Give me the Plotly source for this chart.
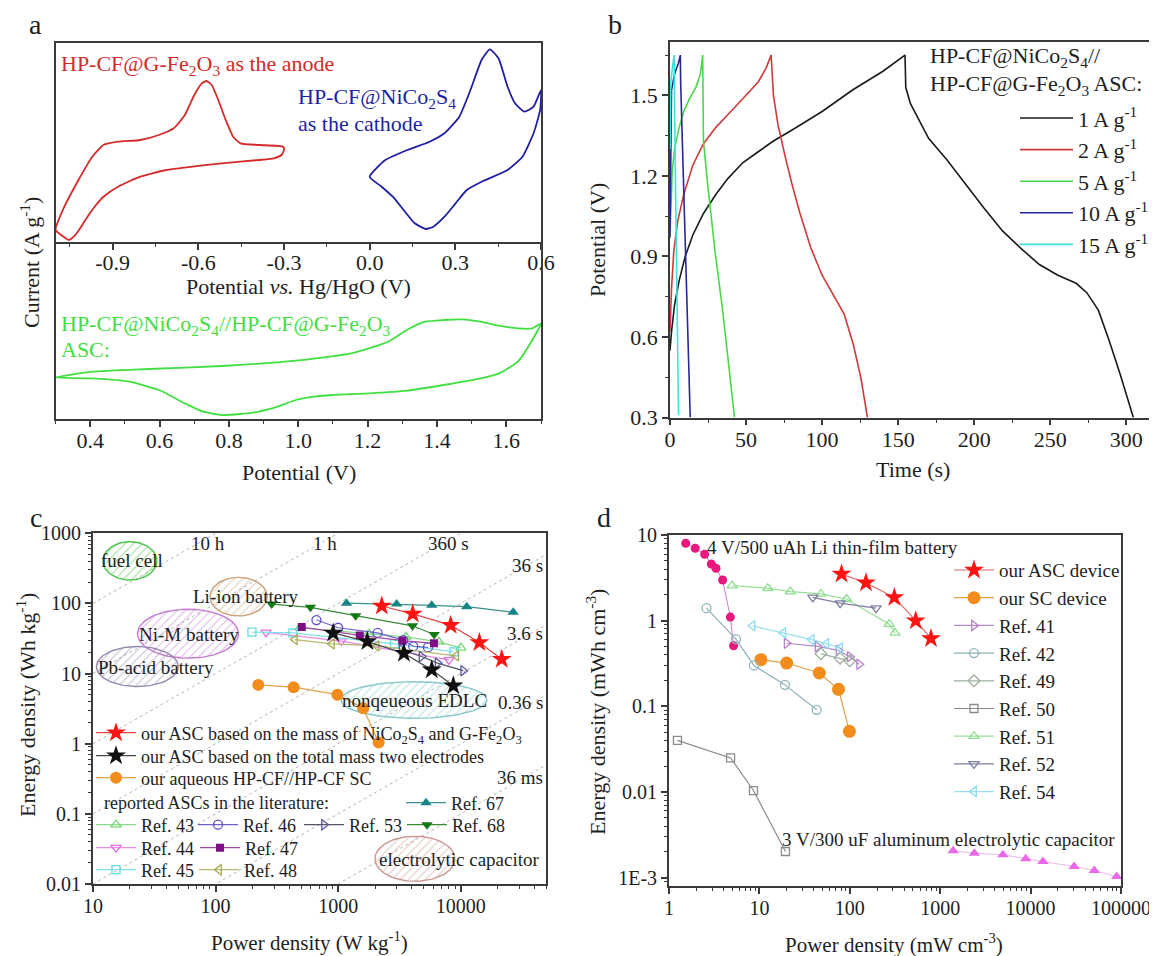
import numpy as np
import plotly.graph_objects as go

# The page body has an 8 px margin; the figure is placed so that its
# drawing lines up with the 1157x956 window.
OFF = 8
W, H = 1149, 948
FONT = "Liberation Serif, Times New Roman, Times, serif"
AX = "#3a3a3a"
TXT = "#1e1e1e"


def X(px):
    return (px - OFF) / W


def Y(py):
    return 1 - (py - OFF) / H


# ---------------- panel a : cyclic voltammograms ----------------
anode_V = [-1.10, -1.069, -1.023, -0.971, -0.932, -0.881, -0.803, -0.738, -0.686, -0.647, -0.614,
           -0.588, -0.571, -0.553, -0.530, -0.504, -0.478, -0.452, -0.387, -0.303, -0.300,
           -0.309, -0.335, -0.387, -0.517, -0.621, -0.712, -0.803, -0.881, -0.932, -0.958,
           -0.984, -1.010, -1.036, -1.053, -1.069, -1.088, -1.10]
anode_I = [-7.0, -4.67, -2.17, 0.33, 1.5, 1.83, 2.0, 2.5, 3.17, 4.5, 6.5,
           7.67, 7.9, 7.5, 6.0, 4.0, 2.33, 1.67, 1.5, 1.33, 1.0,
           0.5, 0.17, 0.0, -0.33, -0.67, -1.0, -1.67, -2.67, -3.67, -4.5,
           -5.5, -6.67, -7.67, -8.0, -7.73, -7.33, -7.0]

cathode_V = [0.0, 0.055, 0.132, 0.210, 0.262, 0.314, 0.353, 0.392, 0.421, 0.451, 0.483, 0.509,
             0.542, 0.574, 0.600, 0.597, 0.574, 0.535, 0.483, 0.392, 0.340, 0.301, 0.262,
             0.223, 0.197, 0.158, 0.119, 0.081, 0.042, 0.0]
cathode_I = [-1.67, 0.0, 1.0, 1.83, 2.67, 4.33, 7.0, 10.0, 11.07, 10.17, 7.33, 5.67,
             4.83, 5.33, 7.0, 5.0, 2.67, 0.33, -1.0, -2.17, -3.0, -4.33, -5.67,
             -6.67, -6.9, -6.33, -5.0, -3.67, -2.67, -1.67]

asc_cv_V = [0.300, 0.407, 0.567, 0.780, 0.993, 1.153, 1.259, 1.313, 1.366, 1.419, 1.473, 1.526,
            1.579, 1.633, 1.675, 1.700,
            1.675, 1.633, 1.579, 1.526, 1.419, 1.313, 1.206, 1.100, 1.046, 0.993, 0.940,
            0.886, 0.833, 0.780, 0.726, 0.673, 0.599, 0.513, 0.407, 0.300]
asc_cv_I = [-0.07, 0.5, 0.77, 1.07, 1.6, 2.33, 3.5, 4.67, 5.5, 5.67, 5.73, 5.5,
            5.1, 4.83, 4.83, 5.33,
            3.67, 1.5, 0.33, -0.17, -0.83, -1.4, -1.67, -1.83, -2.0, -2.33, -3.0,
            -3.5, -3.73, -3.83, -3.5, -2.67, -1.33, -0.5, -0.17, -0.07]

# ---------------- panel b : GCD curves ----------------
gcd_labels = ["1 A g<sup>-1</sup>", "2 A g<sup>-1</sup>", "5 A g<sup>-1</sup>",
              "10 A g<sup>-1</sup>", "15 A g<sup>-1</sup>"]
t_1A = [0, 1, 3, 6, 10, 15, 22, 30, 38, 48, 58, 68, 80, 100, 120, 140, 154.5,
        155, 158, 170, 182, 194, 206.5, 218.6, 230.7, 242.8, 255, 267, 274, 281.6, 288.8, 296, 304.6]
V_1A = [0.55, 0.62, 0.72, 0.81, 0.90, 0.98, 1.06, 1.13, 1.19, 1.25, 1.29, 1.33, 1.37, 1.44, 1.52, 1.59, 1.65,
        1.53, 1.47, 1.34, 1.26, 1.17, 1.08, 0.995, 0.93, 0.87, 0.83, 0.80, 0.765, 0.70, 0.585, 0.46, 0.30]
t_2A = [0, 1, 2.5, 5, 9, 15, 22, 30, 40, 50, 58, 63, 66.5,
        68, 71, 75.8, 80.6, 85.5, 92.7, 100, 107, 114.5, 120.6, 125.4, 129.8]
V_2A = [0.62, 0.78, 0.92, 1.03, 1.13, 1.24, 1.32, 1.38, 1.44, 1.50, 1.55, 1.60, 1.65,
        1.50, 1.39, 1.27, 1.16, 1.06, 0.93, 0.83, 0.76, 0.685, 0.57, 0.45, 0.30]
t_5A = [0, 0.7, 1.5, 3, 6, 9, 13, 17, 20, 21.5, 22, 24.9, 29.8, 34.6, 42.4]
V_5A = [0.98, 1.12, 1.22, 1.30, 1.38, 1.44, 1.49, 1.53, 1.58, 1.65, 1.33, 1.16, 0.91, 0.70, 0.30]
t_10A = [0, 0.5, 1, 3, 5.5, 6.8, 7.0, 13.3]
V_10A = [0.97, 1.30, 1.52, 1.58, 1.62, 1.65, 1.55, 0.30]
t_15A = [0, 0.5, 1.5, 2.7, 3.0, 5.6]
V_15A = [1.30, 1.55, 1.60, 1.65, 1.45, 0.31]

# ---------------- panel c : Ragone (gravimetric) ----------------
P_asc_mass = [2270, 4060, 8280, 14200, 21600]
E_asc_mass = [92, 71, 49, 27.7, 16]
P_asc_total = [910, 1730, 3440, 5800, 8700]
E_asc_total = [38, 28.6, 19.5, 11.3, 6.7]
P_sc_aq = [223, 433, 986, 1600, 2140]
E_sc_aq = [6.9, 6.4, 5.0, 3.2, 1.04]
P_ref43 = [488, 1780, 3570, 6640, 10050]
E_ref43 = [44.8, 36.8, 33.4, 28.3, 23.2]
P_ref44 = [258, 1060, 8020]
E_ref44 = [38.7, 29.1, 15.7]
P_ref45 = [198, 428, 2880, 8800]
E_ref45 = [39, 38, 26.5, 20.4]
P_ref46 = [665, 1000, 2100, 3400, 4100, 5400]
E_ref46 = [58, 45, 38, 30, 24.5, 23.6]
P_ref47 = [505, 1500, 3340, 6050]
E_ref47 = [46, 35, 29.5, 27]
P_ref48 = [444, 890, 2060, 9200]
E_ref48 = [30.5, 26.5, 24.8, 17.9]
P_ref53 = [3300, 4790, 6470, 10470]
E_ref53 = [21.8, 17.5, 14.1, 11.0]
P_ref67 = [1170, 3000, 5800, 11200, 26800]
E_ref67 = [101, 98, 94, 90, 75]
P_ref68 = [287, 594, 1390, 4040, 6070]
E_ref68 = [98, 88, 67, 48, 36]

iso_time_h = [10, 1, 0.1, 0.01, 1e-3, 1e-4, 1e-5]
iso_labels = ["10 h", "1 h", "360 s", "36 s", "3.6 s", "0.36 s", "36 ms"]

region_names = ["fuel cell", "Li-ion battery", "Ni-M battery", "Pb-acid battery",
                "nonqeueous EDLC", "electrolytic capacitor"]
region_P = [20, 154, 59.6, 23, 4150, 4230]
region_E = [405, 125, 37, 12.6, 4.2, 0.0229]
region_wdec = [0.22, 0.233, 0.412, 0.334, 0.595, 0.326]
region_hdec = [0.273, 0.275, 0.349, 0.285, 0.261, 0.321]
region_colors = ["#4cc24c", "#c9a27a", "#c47ad2", "#9488b0", "#86c8cc", "#c89890"]

# ---------------- panel d : Ragone (volumetric) ----------------
P_asc_vol = [81, 151, 311, 536, 790]
E_asc_vol = [3.5, 2.77, 1.87, 1.0, 0.62]
P_sc_vol = [10.4, 20, 46, 75, 99]
E_sc_vol = [0.35, 0.32, 0.245, 0.158, 0.051]
P_li_film = [1.53, 1.95, 2.48, 2.94, 3.31, 3.92, 4.77, 5.18]
E_li_film = [8.0, 7.0, 5.96, 4.59, 4.09, 2.98, 1.10, 0.51]
P_al_cap = [1390, 2390, 4940, 8830, 13700, 30300, 50700, 89600]
E_al_cap = [0.00206, 0.00193, 0.00185, 0.00166, 0.00154, 0.00135, 0.00121, 0.00103]
P_ref41 = [20, 44, 75, 100, 127]
E_ref41 = [0.545, 0.50, 0.45, 0.38, 0.31]
P_ref42 = [2.6, 5.5, 8.7, 19.2, 43]
E_ref42 = [1.40, 0.61, 0.30, 0.178, 0.091]
P_ref49 = [48, 78, 100]
E_ref49 = [0.41, 0.365, 0.34]
P_ref50 = [1.24, 4.8, 8.6, 19.4]
E_ref50 = [0.040, 0.025, 0.0104, 0.00202]
P_ref51 = [5.0, 12.4, 22, 48, 92, 273, 316]
E_ref51 = [2.56, 2.39, 2.18, 2.05, 1.79, 0.91, 0.72]
P_ref52 = [39, 78, 195]
E_ref52 = [1.87, 1.60, 1.40]
P_ref54 = [8.4, 18.4, 38, 55, 78]
E_ref54 = [0.87, 0.72, 0.60, 0.54, 0.48]

fig = go.Figure()
layout_legends = {}


def legend_box(key, left_px, center_py, size, iw=40, rows=1):
    rowh = 1.3 * size + 3
    if rows > 1:
        ytop = center_py - rowh / 2 - 5
        yy, ya = Y(ytop), "top"
    else:
        yy, ya = Y(center_py), "middle"
    layout_legends[key] = dict(
        x=X(left_px - 5), xanchor="left", y=yy, yanchor=ya,
        font=dict(family=FONT, size=size, color=TXT), bgcolor="rgba(0,0,0,0)",
        borderwidth=0, itemwidth=iw, tracegroupgap=0, orientation="v",
        itemclick=False, itemdoubleclick=False)


# ---- panel a traces ----
fig.add_trace(go.Scatter(x=anode_V, y=anode_I, mode="lines", xaxis="x", yaxis="y",
                         line=dict(color="#d42a2a", width=1.8, shape="spline", smoothing=0.5),
                         showlegend=False))
fig.add_trace(go.Scatter(x=cathode_V, y=cathode_I, mode="lines", xaxis="x", yaxis="y",
                         line=dict(color="#1f1fa6", width=1.8, shape="spline", smoothing=0.5),
                         showlegend=False))
fig.add_trace(go.Scatter(x=asc_cv_V, y=asc_cv_I, mode="lines", xaxis="x2", yaxis="y2",
                         line=dict(color="#40e040", width=1.8, shape="spline", smoothing=0.5),
                         showlegend=False))

# ---- panel b traces ----
gcd_t = [t_1A, t_2A, t_5A, t_10A, t_15A]
gcd_V = [V_1A, V_2A, V_5A, V_10A, V_15A]
gcd_colors = ["#1a1a1a", "#d03a3a", "#48d848", "#27279a", "#3ee0e0"]
legend_box("legend", 1020, 118, 22, iw=53, rows=5)
for t, v, c, lab in zip(gcd_t, gcd_V, gcd_colors, gcd_labels):
    fig.add_trace(go.Scatter(x=t, y=v, mode="lines", xaxis="x3", yaxis="y3", name=lab,
                             line=dict(color=c, width=1.6), legend="legend"))

# ---- panel c : iso-time guide lines ----
P_guide = [10, 50000]
for th in iso_time_h:
    fig.add_trace(go.Scatter(x=P_guide, y=[p * th for p in P_guide], mode="lines",
                             xaxis="x4", yaxis="y4", showlegend=False,
                             line=dict(color="#b4b4b4", width=1, dash="dot")))

# ---- panel c : hatched regions ----
theta = np.linspace(0, 2 * np.pi, 90)
for name, pc, ec, wd, hd, col in zip(region_names, region_P, region_E, region_wdec,
                                     region_hdec, region_colors):
    lx = np.log10(pc) + wd * np.cos(theta)
    ly = np.log10(ec) + hd * np.sin(theta)
    fig.add_trace(go.Scatter(x=10 ** lx, y=10 ** ly, mode="lines", fill="toself",
                             xaxis="x4", yaxis="y4", showlegend=False,
                             fillcolor="rgba(255,255,255,0)",
                             fillpattern=dict(shape="/", fgcolor=col, fgopacity=0.55,
                                              bgcolor="rgba(255,255,255,0)", size=6,
                                              solidity=0.18),
                             line=dict(color=col, width=1.4)))

# ---- panel c : data series ----
c_series = [
    (P_ref43, E_ref43, "Ref. 43", "triangle-up-open", "#74d874", "#8ad88a", 9, "legend10", 96, 825),
    (P_ref44, E_ref44, "Ref. 44", "triangle-down-open", "#e070e0", "#e58ae5", 9, "legend11", 96, 848),
    (P_ref45, E_ref45, "Ref. 45", "square-open", "#62dce6", "#80e2ea", 8, "legend12", 96, 870),
    (P_ref46, E_ref46, "Ref. 46", "circle-open", "#5a4fc8", "#6c62d0", 9, "legend13", 198, 825),
    (P_ref47, E_ref47, "Ref. 47", "square", "#7d0f84", "#a04ca6", 8, "legend14", 200, 848),
    (P_ref48, E_ref48, "Ref. 48", "triangle-left-open", "#a8a84e", "#b8b870", 9, "legend15", 199, 870),
    (P_ref53, E_ref53, "Ref. 53", "triangle-right-open", "#5a5aa0", "#555566", 9, "legend16", 304, 825),
    (P_ref68, E_ref68, "Ref. 68", "triangle-down", "#137a13", "#3a8a3a", 10, "legend17", 407, 825),
    (P_ref67, E_ref67, "Ref. 67", "triangle-up", "#178585", "#3a9090", 10, "legend18", 406, 803),
    (P_sc_aq, E_sc_aq, "our aqueous HP-CF//HP-CF SC", "circle", "#f28c1c", "#e2a24a", 12, "legend9", 96, 778),
    (P_asc_total, E_asc_total, "our ASC based on the total mass two electrodes", "star", "#101010",
     "#4a4a4a", 15, "legend8", 96, 756),
    (P_asc_mass, E_asc_mass, "our ASC based on the mass of NiCo<sub>2</sub>S<sub>4</sub> and G-Fe<sub>2</sub>O<sub>3</sub>",
     "star", "#ff1414", "#e04848", 15, "legend7", 96, 733),
]
for xs, ys, name, sym, mc, lc, sz, lk, left, row in c_series:
    legend_box(lk, left, row, 18, iw=40)
    open_sym = sym.endswith("open")
    fig.add_trace(go.Scatter(
        x=xs, y=ys, mode="lines+markers", xaxis="x4", yaxis="y4", name=name, legend=lk,
        line=dict(color=lc, width=1.2),
        marker=dict(symbol=sym, size=sz, color=mc,
                    line=dict(color=mc, width=1.3 if open_sym else 0))))

# ---- panel d traces ----
fig.add_trace(go.Scatter(x=P_li_film, y=E_li_film, mode="lines+markers", xaxis="x5", yaxis="y5",
                         showlegend=False, line=dict(color="#c97cc9", width=1),
                         marker=dict(symbol="circle", size=9, color="#e8187e")))
fig.add_trace(go.Scatter(x=P_al_cap, y=E_al_cap, mode="lines+markers", xaxis="x5", yaxis="y5",
                         showlegend=False, line=dict(color="#ebb4eb", width=1),
                         marker=dict(symbol="triangle-up", size=10, color="#e868e8")))
d_series = [
    (P_asc_vol, E_asc_vol, "our ASC device", "star", "#ff1414", "#d86a6a", 15),
    (P_sc_vol, E_sc_vol, "our SC device", "circle", "#f28c1c", "#e2a24a", 13),
    (P_ref41, E_ref41, "Ref. 41", "triangle-right-open", "#b482c8", "#b48ac4", 9),
    (P_ref42, E_ref42, "Ref. 42", "circle-open", "#8fb4bc", "#8fb0b8", 9),
    (P_ref49, E_ref49, "Ref. 49", "diamond-open", "#9cb09c", "#9cb09c", 9),
    (P_ref50, E_ref50, "Ref. 50", "square-open", "#8a8a8a", "#8a8a8a", 8),
    (P_ref51, E_ref51, "Ref. 51", "triangle-up-open", "#8ede8e", "#98de98", 9),
    (P_ref52, E_ref52, "Ref. 52", "triangle-down-open", "#7e7ea0", "#7e7ea0", 9),
    (P_ref54, E_ref54, "Ref. 54", "triangle-left-open", "#8adcf0", "#9ae0f0", 9),
]
legend_box("legend2", 954, 570, 19, iw=40, rows=9)
for xs, ys, name, sym, mc, lc, sz in d_series:
    open_sym = sym.endswith("open")
    fig.add_trace(go.Scatter(
        x=xs, y=ys, mode="lines+markers", xaxis="x5", yaxis="y5", name=name, legend="legend2",
        line=dict(color=lc, width=1.2),
        marker=dict(symbol=sym, size=sz, color=mc,
                    line=dict(color=mc, width=1.3 if open_sym else 0))))

# ---------------- axes ----------------
base = dict(showgrid=False, zeroline=False, showline=True, linecolor=AX, linewidth=1.8,
            tickcolor=AX, tickwidth=1.5, mirror=True,
            tickfont=dict(family=FONT, size=22, color=TXT))


def minor(vals, ln=3.5):
    return dict(tickmode="array", tickvals=vals, ticks="outside", ticklen=ln,
                tickcolor=AX, tickwidth=1.3)


def log_minors(lo, hi):
    return [m * 10.0 ** e for e in range(lo, hi) for m in range(2, 10)]


SMALL = dict(family=FONT, size=20, color=TXT)
layout_axes = dict(
    xaxis=dict(base, domain=[X(55.5), X(541)], range=[-1.1, 0.6], anchor="y", ticks="outside",
               ticklen=6, ticklabelstandoff=-6, tickvals=[-0.9, -0.6, -0.3, 0.0, 0.3, 0.6],
               ticktext=["-0.9", "-0.6", "-0.3", "0.0", "0.3", "0.6"],
               minor=minor([-1.05, -0.75, -0.45, -0.15, 0.15, 0.45])),
    yaxis=dict(base, domain=[Y(241.7), Y(43.3)], range=[-8.17, 11.67], anchor="x",
               showticklabels=False, ticks=""),
    xaxis2=dict(base, mirror=False, domain=[X(55.5), X(541)], range=[0.3, 1.7], anchor="y2",
                ticks="outside", ticklen=6, ticklabelstandoff=-5,
                tickvals=[0.4, 0.6, 0.8, 1.0, 1.2, 1.4, 1.6],
                ticktext=["0.4", "0.6", "0.8", "1.0", "1.2", "1.4", "1.6"],
                minor=minor([0.3, 0.5, 0.7, 0.9, 1.1, 1.3, 1.5, 1.7])),
    yaxis2=dict(base, domain=[Y(419), Y(241.7)], range=[-4.23, 13.5], anchor="x2",
                showticklabels=False, ticks=""),
    xaxis3=dict(base, domain=[X(670), X(1156)], range=[0, 319.5], anchor="y3", ticks="outside",
                ticklen=6, ticklabelstandoff=-5, tickvals=[0, 50, 100, 150, 200, 250, 300],
                minor=minor([25, 75, 125, 175, 225, 275])),
    yaxis3=dict(base, domain=[Y(417.5), Y(41.7)], range=[0.3, 1.7], anchor="x3", ticks="outside",
                ticklen=6, tickvals=[0.3, 0.6, 0.9, 1.2, 1.5],
                ticktext=["0.3", "0.6", "0.9", "1.2", "1.5"],
                minor=minor([0.45, 0.75, 1.05, 1.35, 1.65])),
    xaxis4=dict(base, type="log", domain=[X(93), X(546.4)], range=[1, np.log10(50000)],
                anchor="y4", ticks="outside", ticklen=6, ticklabelstandoff=-3,
                tickvals=[10, 100, 1000, 10000],
                ticktext=["10", "100", "1000", "10000"], tickfont=SMALL,
                minor=minor(log_minors(1, 5))),
    yaxis4=dict(base, type="log", domain=[Y(884), Y(533.3)], range=[-2, 3], anchor="x4",
                ticks="outside", ticklen=6, tickvals=[0.01, 0.1, 1, 10, 100, 1000],
                ticktext=["0.01", "0.1", "1", "10", "100", "1000"],
                tickfont=SMALL, minor=minor(log_minors(-2, 3))),
    xaxis5=dict(base, type="log", domain=[X(669), X(1121)], range=[0, 5], anchor="y5",
                ticks="outside", ticklen=6, ticklabelstandoff=-3,
                tickvals=[1, 10, 100, 1000, 10000, 100000],
                ticktext=["1", "10", "100", "1000", "10000", "100000"],
                tickfont=SMALL, minor=minor(log_minors(0, 5))),
    yaxis5=dict(base, type="log", domain=[Y(885.7), Y(535)], range=[-3.094, 1], anchor="x5",
                ticks="outside", ticklen=6, tickvals=[0.001, 0.01, 0.1, 1, 10],
                ticktext=["1E-3", "0.01", "0.1", "1", "10"],
                tickfont=SMALL, minor=minor(log_minors(-4, 1))),
)

# ---------------- annotations ----------------
ann = []


def text(px, py, s, size=22, color=TXT, xa="center", ya="middle", angle=0):
    ann.append(dict(x=X(px), y=Y(py), xref="paper", yref="paper", text=s, showarrow=False,
                    xanchor=xa, yanchor=ya, textangle=angle,
                    font=dict(family=FONT, size=size, color=color)))


# panel letters
text(35, 25, "a", 28)
text(615, 25, "b", 28)
text(36, 517, "c", 28)
text(604, 517, "d", 28)

# panel a
text(59, 65, "HP-CF@G-Fe<sub>2</sub>O<sub>3</sub> as the anode", 22, "#d42a2a", xa="left")
text(296, 98, "HP-CF@NiCo<sub>2</sub>S<sub>4</sub>", 22, "#1f1fa6", xa="left")
text(296, 123, "as the cathode", 22, "#1f1fa6", xa="left")
text(59, 325, "HP-CF@NiCo<sub>2</sub>S<sub>4</sub>//HP-CF@G-Fe<sub>2</sub>O<sub>3</sub>", 22, "#40e040", xa="left")
text(59, 350, "ASC:", 22, "#40e040", xa="left")
text(298, 286, "Potential <i>vs.</i> Hg/HgO (V)", 22)
text(299, 472, "Potential (V)", 22)
text(30, 263, "Current (A g<sup>-1</sup>)", 22, angle=-90)

# panel b
text(597, 240, "Potential (V)", 22, angle=-90)
text(913, 470, "Time (s)", 22)
text(928, 57, "HP-CF@NiCo<sub>2</sub>S<sub>4</sub>//", 22, xa="left")
text(928, 85, "HP-CF@G-Fe<sub>2</sub>O<sub>3</sub> ASC:", 22, xa="left")

# panel c
text(26, 705, "Energy density (Wh kg<sup>-1</sup>)", 22, angle=-90)
text(309, 941, "Power density (W kg<sup>-1</sup>)", 21)
text(102, 803, "reported ASCs in the literature:", 18, xa="left")
iso_pos = [(208, 543, "center"), (325, 543, "center"), (449, 543, "center"),
           (545, 565, "right"), (545, 633, "right"), (545, 702, "right"), (545, 777, "right")]
for (px, py, xa), lab in zip(iso_pos, iso_labels):
    text(px, py, lab, 19, xa=xa)
region_label_pos = [(132, 560, "center"), (245, 596, "center"), (189, 634, "center"),
                    (96, 667, "left"), (414, 700, "center"), (377, 859, "left")]
for (px, py, xa), lab in zip(region_label_pos, region_names):
    text(px, py, lab, 19, xa=xa)

# panel d
text(596, 712, "Energy density (mWh cm<sup>-3</sup>)", 22, angle=-90)
text(894, 943, "Power density (mW cm<sup>-3</sup>)", 21)
text(705, 547, "4 V/500 uAh Li thin-film battery", 19, xa="left")
text(1117, 839, "3 V/300 uF aluminum electrolytic capacitor", 19, xa="right")

fig.update_layout(
    width=W, height=H, template="none",
    margin=dict(l=0, r=0, t=0, b=0, autoexpand=False),
    paper_bgcolor="white", plot_bgcolor="rgba(0,0,0,0)",
    font=dict(family=FONT, size=20, color=TXT),
    hovermode=False, showlegend=True,
    annotations=ann,
    **layout_axes,
    **layout_legends,
)

fig.write_html("out.html")
